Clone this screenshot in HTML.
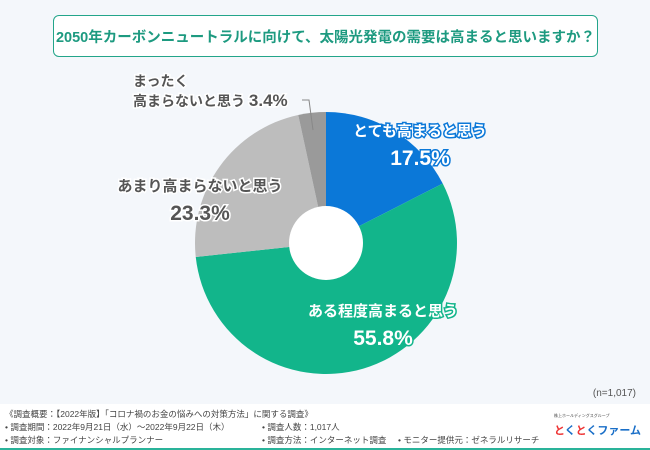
<!DOCTYPE html>
<html><head><meta charset="utf-8"><style>
body{margin:0;width:650px;height:450px;overflow:hidden;background:#f4f7fb;font-family:"Liberation Sans","Noto Sans CJK JP",sans-serif;position:relative}
.title{position:absolute;left:53px;top:15px;width:545px;height:42px;box-sizing:border-box;border:1.5px solid #23a58a;border-radius:6px;background:#fff;color:#1d9a80;font-size:14.5px;font-weight:bold;display:flex;align-items:center;justify-content:center;white-space:nowrap}
.foot{position:absolute;left:0;top:404px;width:650px;height:44px;background:#fff;border-bottom:2px solid #2ab39a;font-size:8.5px;color:#444}
.foot div{position:absolute;white-space:nowrap}
.n{position:absolute;right:14px;top:388px;font-size:10px;color:#555}
</style></head><body>
<div class="title">2050年カーボンニュートラルに向けて、太陽光発電の需要は高まると思いますか？</div>
<svg id="chart" width="650" height="450" style="position:absolute;left:0;top:0"></svg>
<div class="n">(n=1,017)</div>
<div class="foot">
<div style="left:5px;top:4px">《調査概要：【2022年版】「コロナ禍のお金の悩みへの対策方法」に関する調査》</div>
<div style="left:5px;top:17px">• 調査期間：2022年9月21日（水）〜2022年9月22日（木）</div>
<div style="left:5px;top:30px">• 調査対象：ファイナンシャルプランナー</div>
<div style="left:262px;top:17px">• 調査人数：1,017人</div>
<div style="left:262px;top:30px">• 調査方法：インターネット調査</div>
<div style="left:398px;top:30px">• モニター提供元：ゼネラルリサーチ</div>
<div style="left:554px;top:9px;font-size:4px">株上ホールディングスグループ</div>
<div style="left:554px;top:18px;font-size:11px;font-weight:bold;color:#1a6fc8"><span style="color:#e33">と</span>く<span style="color:#e33">と</span>くファーム</div>
</div>
<script>
const categories=["とても高まると思う","ある程度高まると思う","あまり高まらないと思う","まったく高まらないと思う"];
const values=[17.5,55.8,23.3,3.4];
const colors=["#0b78d8","#12b58b","#bdbdbd","#9a9a9a"];
const NS="http://www.w3.org/2000/svg";
const svg=document.getElementById('chart');
const cx=326,cy=243,R=131,r=37;
const total=values.reduce((a,b)=>a+b,0);
function pt(a,rad){return [cx+rad*Math.sin(a),cy-rad*Math.cos(a)];}
let acc=0;
values.forEach((v,i)=>{
 const a0=acc/total*2*Math.PI;acc+=v;const a1=acc/total*2*Math.PI;
 const [x0,y0]=pt(a0,R),[x1,y1]=pt(a1,R);
 const p=document.createElementNS(NS,'path');
 p.setAttribute('d',`M${cx},${cy}L${x0},${y0}A${R},${R} 0 ${a1-a0>Math.PI?1:0} 1 ${x1},${y1}Z`);
 p.setAttribute('fill',colors[i]);
 
 
 svg.appendChild(p);
});
const h=document.createElementNS(NS,'circle');
h.setAttribute('cx',cx);h.setAttribute('cy',cy);h.setAttribute('r',r);h.setAttribute('fill','#fff');


svg.appendChild(h);
const labels=[
 {lines:[categories[0]],x:420,y:136,c:"#fff",s:"#0b78d8"},
 {lines:[categories[1]],x:383,y:316,c:"#fff",s:"#12b58b"},
 {lines:[categories[2]],x:200,y:191,c:"#555",s:"#fff"},
 {lines:["まったく","高まらないと思う"],x:200,y:93,c:"#555",s:"#fff",inline:true}
];
labels.forEach((L,i)=>{
 const t=document.createElementNS(NS,'text');
 t.setAttribute('x',L.x);t.setAttribute('y',L.y);t.setAttribute('text-anchor','middle');
 t.setAttribute('font-size','15');t.setAttribute('font-weight','bold');t.setAttribute('fill',L.c);
 t.setAttribute('stroke',L.s);t.setAttribute('stroke-width','3');t.setAttribute('paint-order','stroke');
 
 
 if(L.inline){
  t.setAttribute('font-size','14');t.setAttribute('text-anchor','start');
  t.innerHTML=`<tspan x="133" y="86">${L.lines[0]}</tspan><tspan x="133" y="106">${L.lines[1]} <tspan font-size="17">${values[i]}%</tspan></tspan>`;
 } else {
  t.innerHTML=`<tspan x="${L.x}" y="${L.y}">${L.lines[0]}</tspan><tspan x="${L.x}" y="${L.y+29}" font-size="21">${values[i]}%</tspan>`;
 }
 svg.appendChild(t);
});
const ln=document.createElementNS(NS,'polyline');
ln.setAttribute('points','302,100 309,100 313,130');ln.setAttribute('fill','none');ln.setAttribute('stroke','#888');


svg.appendChild(ln);
</script>
</body></html>
